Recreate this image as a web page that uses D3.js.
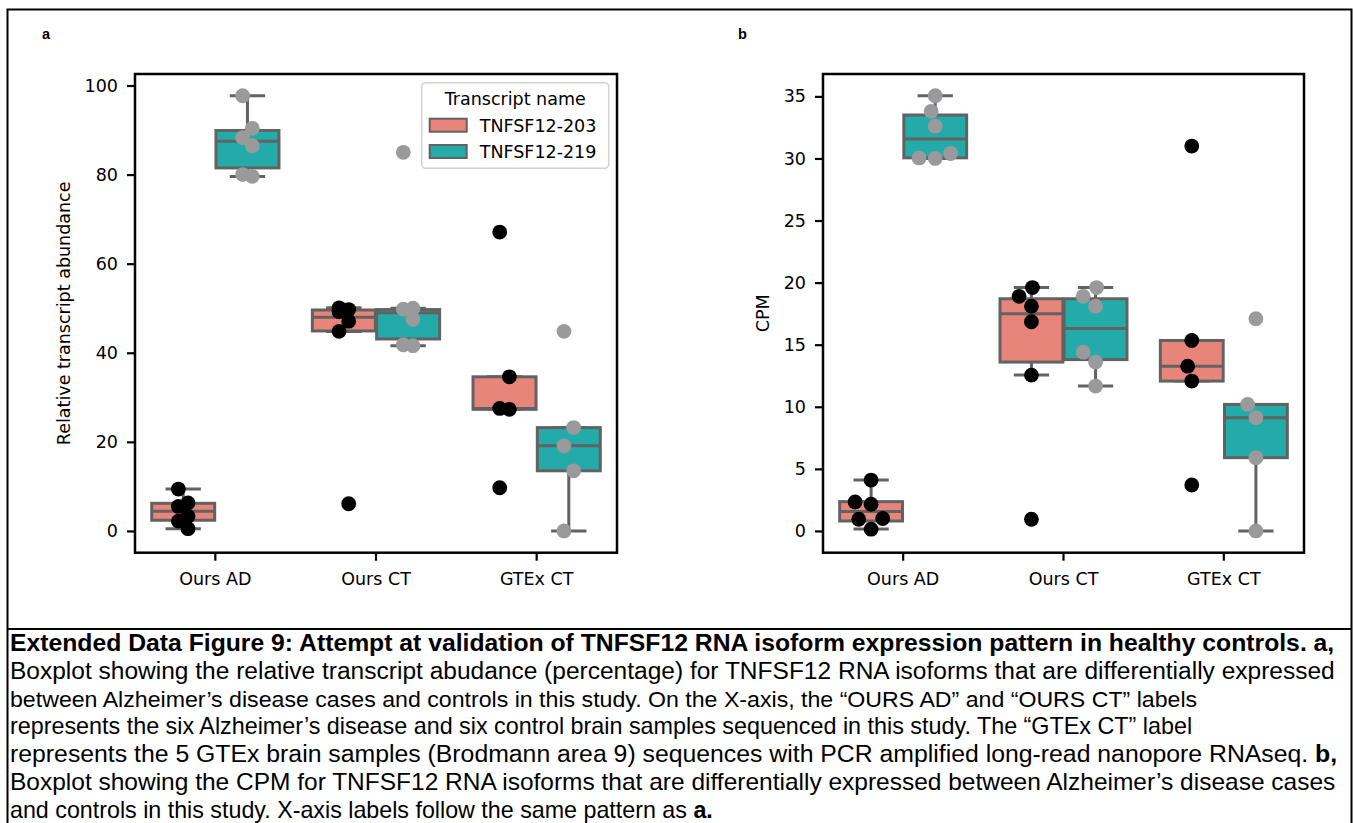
<!DOCTYPE html>
<html><head><meta charset="utf-8">
<script src="https://cdn.jsdelivr.net/npm/d3@7/dist/d3.min.js"></script>
<style>body{margin:0;background:#fff} svg{display:block}</style>
</head><body>
<svg id="c" width="1353" height="823"></svg>
<script>
// ---------------- data ----------------
const categories = ["Ours AD", "Ours CT", "GTEx CT"];
const transcripts = ["TNFSF12-203", "TNFSF12-219"];
const legendTitle = "Transcript name";

// panel a: relative transcript abundance (individual samples)
const relAbund203 = [[9.4, 6.3, 5.5, 3.3, 2.2, 0.5], [50.1, 49.7, 49.2, 47.1, 44.8, 6.1], [67.1, 34.6, 27.5, 27.3, 9.7]];
const relAbund219 = [[97.7, 90.4, 88.3, 86.5, 80.0, 79.6], [85.0, 50.0, 49.8, 47.5, 41.8, 41.6], [44.8, 23.2, 19.1, 13.5, 0.0]];
// panel a: box statistics [whisker low, q1, median, q3, whisker high]
const relBox203 = [[0.5, 2.4, 4.4, 6.2, 9.4], [44.8, 44.9, 48.0, 49.6, 50.1], [27.3, 27.3, 27.5, 34.6, 34.6]];
const relBox219 = [[79.6, 81.5, 87.5, 89.9, 97.7], [41.6, 43.1, 49.0, 49.7, 50.0], [0.0, 13.5, 19.1, 23.2, 23.2]];

// panel b: CPM (individual samples)
const cpm203 = [[4.1, 2.33, 2.15, 1.0, 0.94, 0.14], [19.6, 18.9, 18.1, 16.85, 12.55, 0.94], [31.0, 15.34, 13.27, 12.07, 3.7]];
const cpm219 = [[35.05, 33.8, 32.6, 30.4, 30.04, 30.0], [19.6, 18.9, 18.1, 14.4, 13.6, 11.67], [17.09, 10.19, 9.12, 5.9, 0.0]];
// panel b: box statistics
const cpmBox203 = [[0.15, 0.8, 1.56, 2.36, 4.1], [12.55, 13.6, 17.5, 18.7, 19.6], [12.07, 12.07, 13.27, 15.34, 15.34]];
const cpmBox219 = [[30.0, 30.05, 31.57, 33.5, 35.05], [11.67, 13.8, 16.3, 18.7, 19.6], [0.0, 5.9, 9.12, 10.19, 10.19]];

const yTicksA = [0, 20, 40, 60, 80, 100];
const yTicksB = [0, 5, 10, 15, 20, 25, 30, 35];

const captionLines = [
  [["Extended Data Figure 9: Attempt at validation of TNFSF12 RNA isoform expression pattern in healthy controls. a,", true]],
  [["Boxplot showing the relative transcript abudance (percentage) for TNFSF12 RNA isoforms that are differentially expressed", false]],
  [["between Alzheimer\u2019s disease cases and controls in this study. On the X-axis, the \u201cOURS AD\u201d and \u201cOURS CT\u201d labels", false]],
  [["represents the six Alzheimer\u2019s disease and six control brain samples sequenced in this study. The \u201cGTEx CT\u201d label", false]],
  [["represents the 5 GTEx brain samples (Brodmann area 9) sequences with PCR amplified long-read nanopore RNAseq. ", false], ["b,", true]],
  [["Boxplot showing the CPM for TNFSF12 RNA isoforms that are differentially expressed between Alzheimer\u2019s disease cases", false]],
  [["and controls in this study. X-axis labels follow the same pattern as ", false], ["a.", true]]
];

// ---------------- style ----------------
const fillColors = ["#e8857b", "#22aba9"];
const dotColors = ["#000000", "#9a9a9d"];
const boxLine = "#626262";
const tickFont = "'DejaVu Sans', sans-serif";
const tickSize = 17.5;

const svg = d3.select("#c");
svg.append("rect").attr("width", 1353).attr("height", 823).attr("fill", "#fff");

// outer frame + caption separator
svg.append("rect").attr("x", 7.5).attr("y", 9.5).attr("width", 1344).attr("height", 840)
  .attr("fill", "none").attr("stroke", "#000").attr("stroke-width", 2);
svg.append("line").attr("x1", 7.5).attr("x2", 1351.5).attr("y1", 629).attr("y2", 629)
  .attr("stroke", "#000").attr("stroke-width", 2);

// panel letters
[["a", 42], ["b", 738]].forEach(([t, x]) => {
  svg.append("text").attr("x", x).attr("y", 38.5).text(t)
    .attr("font-family", "'Liberation Sans', Arial, sans-serif").attr("font-weight", "bold")
    .attr("font-size", 14.5).attr("fill", "#000");
});

function swarmOffsets(ys, d) {
  // seaborn-like beeswarm; ys in pixels, returns x offsets in pixels
  const order = ys.map((y, i) => i).sort((a, b) => ys[b] - ys[a]);
  const placed = [];
  const out = new Array(ys.length).fill(0);
  order.forEach(i => {
    const yi = ys[i];
    const nb = placed.filter(p => Math.abs(p.y - yi) < d);
    let cands = [0];
    let leftFirst = true;
    nb.forEach(p => {
      const dy = yi - p.y;
      const dx = Math.sqrt(Math.max(d * d - dy * dy, 0)) * 1.05;
      const cl = p.x - dx, cr = p.x + dx;
      cands.push(...(leftFirst ? [cl, cr] : [cr, cl]));
      leftFirst = !leftFirst;
    });
    cands = cands.map((c, k) => ({c, k})).sort((a, b) => (Math.abs(a.c) - Math.abs(b.c)) || (a.k - b.k)).map(o => o.c);
    let chosen = cands[0];
    for (const c of cands) {
      if (nb.every(p => (c - p.x) ** 2 + (yi - p.y) ** 2 >= d * d - 1e-6)) { chosen = c; break; }
    }
    out[i] = chosen;
    placed.push({x: chosen, y: yi});
  });
  return out;
}

function drawPanel(cfg) {
  const g = svg.append("g");
  const x = d3.scaleBand().domain(categories).range([cfg.left, cfg.right]).padding(0);
  const bw = x.bandwidth();
  const hue = d3.scaleBand().domain(transcripts).range([-0.4 * bw, 0.4 * bw]).padding(0);
  const sub = hue.bandwidth();
  const boxW = sub * 0.98;
  const capW = 0.22 * bw;
  const all = cfg.points.flat(2);
  const [mn, mx] = d3.extent(all);
  const pad = (mx - mn) * 0.05;
  const y = d3.scaleLinear().domain([mn - pad, mx + pad]).range([cfg.bottom, cfg.top]);

  // axes
  const ya = g.append("g").attr("transform", `translate(${cfg.left},0)`)
    .call(d3.axisLeft(y).tickValues(cfg.yTicks).tickSize(8).tickPadding(9).tickFormat(d3.format("d")));
  const xa = g.append("g").attr("transform", `translate(0,${cfg.bottom})`)
    .call(d3.axisBottom(x).tickSize(8).tickPadding(12));
  [ya, xa].forEach(a => {
    a.select(".domain").remove();
    a.selectAll(".tick line").attr("stroke", "#000").attr("stroke-width", 2.2);
    a.selectAll(".tick text").attr("font-family", tickFont).attr("font-size", tickSize).attr("fill", "#000");
  });

  // y label
  g.append("text").attr("transform", `translate(${cfg.ylabelX},${(cfg.top + cfg.bottom) / 2}) rotate(-90)`)
    .attr("text-anchor", "middle").attr("dominant-baseline", "central")
    .attr("font-family", tickFont).attr("font-size", tickSize).attr("fill", "#000").text(cfg.ylabel);

  // boxes
  transcripts.forEach((t, ti) => {
    categories.forEach((c, ci) => {
      const cx = x(c) + bw / 2 + hue(t) + sub / 2;
      const [lo, q1, med, q3, hi] = cfg.boxes[ti][ci];
      const bg = g.append("g");
      bg.append("line").attr("x1", cx).attr("x2", cx).attr("y1", y(q1)).attr("y2", y(lo));
      bg.append("line").attr("x1", cx).attr("x2", cx).attr("y1", y(q3)).attr("y2", y(hi));
      bg.append("line").attr("x1", cx - capW / 2).attr("x2", cx + capW / 2).attr("y1", y(lo)).attr("y2", y(lo));
      bg.append("line").attr("x1", cx - capW / 2).attr("x2", cx + capW / 2).attr("y1", y(hi)).attr("y2", y(hi));
      bg.selectAll("line").attr("stroke", boxLine).attr("stroke-width", 3);
      bg.append("rect").attr("x", cx - boxW / 2).attr("y", y(q3)).attr("width", boxW)
        .attr("height", Math.max(0, y(q1) - y(q3)))
        .attr("fill", fillColors[ti]).attr("stroke", boxLine).attr("stroke-width", 3);
      bg.append("line").attr("x1", cx - boxW / 2).attr("x2", cx + boxW / 2).attr("y1", y(med)).attr("y2", y(med))
        .attr("stroke", boxLine).attr("stroke-width", 3);
    });
  });

  // points
  const r = 7.4;
  transcripts.forEach((t, ti) => {
    categories.forEach((c, ci) => {
      const cx = x(c) + bw / 2 + hue(t) + sub / 2;
      const vals = cfg.points[ti][ci];
      const ys = vals.map(v => y(v));
      let offs;
      if (cfg.mode === "swarm") offs = swarmOffsets(ys, 15.4);
      else offs = vals.map((v, i) => (i % 2 === 0 ? -1 : 1) * 0.03 * bw);
      g.append("g").selectAll("circle").data(vals).join("circle")
        .attr("cx", (v, i) => cx + offs[i]).attr("cy", v => y(v)).attr("r", r)
        .attr("fill", dotColors[ti]);
    });
  });

  // spines
  g.append("rect").attr("x", cfg.left).attr("y", cfg.top).attr("width", cfg.right - cfg.left)
    .attr("height", cfg.bottom - cfg.top).attr("fill", "none").attr("stroke", "#000").attr("stroke-width", 2.5);

  // legend
  if (cfg.legend) {
    const L = cfg.legend;
    const lg = g.append("g");
    lg.append("rect").attr("x", L.x).attr("y", L.y).attr("width", L.w).attr("height", L.h).attr("rx", 4)
      .attr("fill", "#fff").attr("fill-opacity", 0.8).attr("stroke", "#d2d2d2").attr("stroke-width", 1.5);
    lg.append("text").attr("x", L.x + L.w / 2).attr("y", L.y + 22.5).attr("text-anchor", "middle")
      .attr("font-family", tickFont).attr("font-size", tickSize).attr("fill", "#000").text(legendTitle);
    transcripts.forEach((t, ti) => {
      const ry = L.y + 36 + ti * 26.3;
      lg.append("rect").attr("x", L.x + 8).attr("y", ry).attr("width", 37).attr("height", 13)
        .attr("fill", fillColors[ti]).attr("stroke", boxLine).attr("stroke-width", 2);
      lg.append("text").attr("x", L.x + 58).attr("y", ry + 12.8)
        .attr("font-family", tickFont).attr("font-size", tickSize).attr("fill", "#000").text(t);
    });
  }
}

drawPanel({
  left: 135, right: 617, top: 74, bottom: 552.7,
  points: [relAbund203, relAbund219], boxes: [relBox203, relBox219],
  yTicks: yTicksA, ylabel: "Relative transcript abundance", ylabelX: 64, mode: "strip",
  legend: {x: 421.7, y: 82.7, w: 187, h: 85.6}
});
drawPanel({
  left: 823, right: 1304, top: 74, bottom: 552.7,
  points: [cpm203, cpm219], boxes: [cpmBox203, cpmBox219],
  yTicks: yTicksB, ylabel: "CPM", ylabelX: 763, mode: "swarm"
});

// caption: each line compressed horizontally to its measured extent in the reference
const capFont = "'Liberation Sans', Arial, sans-serif";
const capSize = 23;
const lineWidths = [1325, 1325, 1188, 1183, 1328, 1326, 703];
captionLines.forEach((parts, i) => {
  const lg = svg.append("g");
  const t = lg.append("text").attr("x", 0).attr("y", 0)
    .attr("font-family", capFont).attr("font-size", capSize).attr("fill", "#000");
  parts.forEach(([s, b]) => t.append("tspan").attr("font-weight", b ? "bold" : "normal").text(s));
  const nat = t.node().getComputedTextLength();
  lg.attr("transform", `translate(10,${651 + i * 27.8}) scale(${lineWidths[i] / nat},1)`);
});
</script>
</body></html>
